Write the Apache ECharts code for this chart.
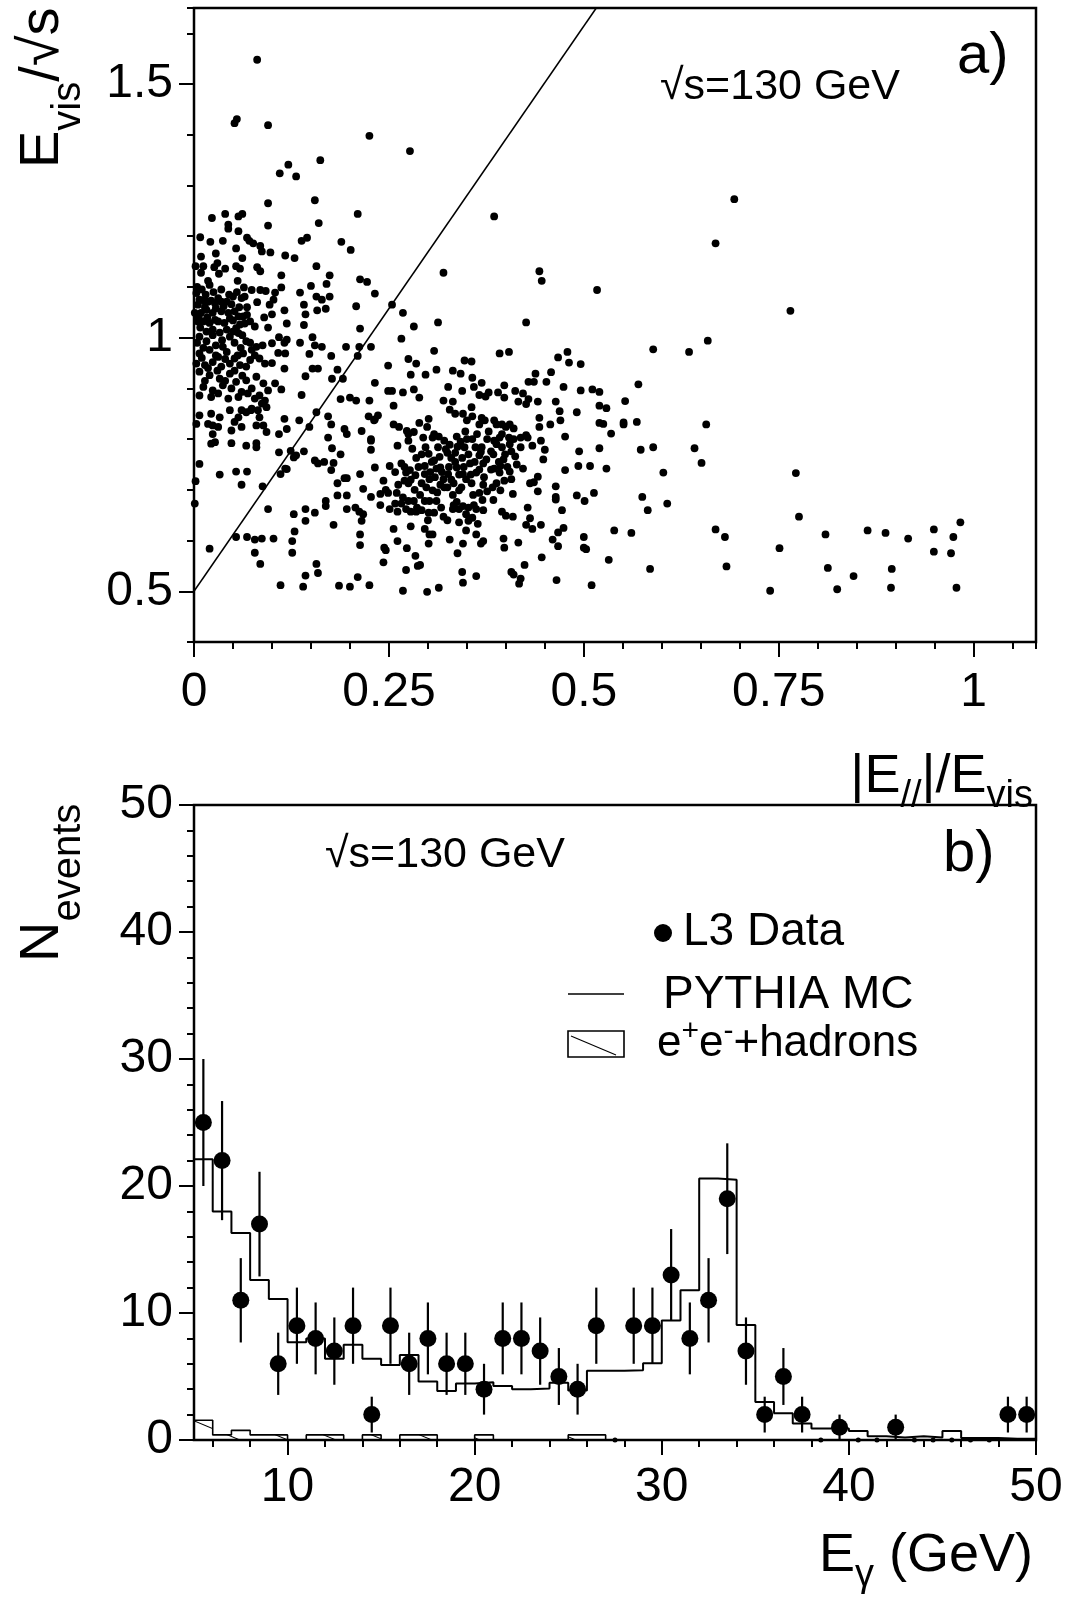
<!DOCTYPE html>
<html><head><meta charset="utf-8">
<script src="https://cdn.jsdelivr.net/npm/echarts@6/dist/echarts.min.js"></script>
<style>html,body{margin:0;padding:0;background:#fff}#c{width:1068px;height:1604px}</style>
</head><body><div id="c"></div>
<script>
// ---------- Panel a) scatter: events (|E//|/Evis , Evis/sqrt(s)) ----------
const evtUpper = [[0.081,1.548],[0.052,1.423],[0.055,1.431],[0.095,1.419],[0.225,1.398],[0.277,1.368],[0.110,1.324],[0.121,1.341],[0.131,1.318],[0.162,1.350],[0.095,1.265],[0.155,1.271],[0.023,1.236],[0.040,1.244],[0.044,1.223],[0.044,1.215],[0.057,1.239],[0.062,1.244],[0.095,1.221],[0.160,1.226],[0.210,1.244],[0.385,1.239],[0.008,1.198],[0.021,1.189],[0.037,1.191],[0.057,1.210],[0.068,1.197],[0.071,1.191],[0.076,1.186],[0.085,1.181],[0.087,1.170],[0.098,1.168],[0.117,1.162],[0.129,1.157],[0.138,1.191],[0.145,1.197],[0.189,1.189],[0.201,1.173],[0.009,1.160],[0.028,1.166],[0.054,1.176],[0.062,1.157],[0.002,1.141],[0.012,1.141],[0.009,1.128],[0.026,1.139],[0.030,1.147],[0.032,1.126],[0.040,1.136],[0.054,1.141],[0.059,1.136],[0.081,1.139],[0.085,1.131],[0.018,1.112],[0.020,1.104],[0.056,1.112],[0.064,1.099],[0.074,1.094],[0.085,1.094],[0.092,1.092],[0.081,1.070],[0.097,1.065],[0.100,1.046],[0.104,1.089],[0.102,1.075],[0.112,1.123],[0.112,1.099],[0.116,1.054],[0.119,1.028],[0.136,1.089],[0.141,1.065],[0.143,1.046],[0.141,1.025],[0.150,1.102],[0.157,1.141],[0.157,1.081],[0.164,1.075],[0.158,1.054],[0.169,1.057],[0.170,1.106],[0.174,1.123],[0.174,1.081],[0.208,1.062],[0.213,1.115],[0.222,1.110],[0.232,1.087],[0.213,1.018],[0.254,1.065],[0.268,1.049],[0.282,1.022],[0.313,1.030],[0.320,1.128],[0.426,1.030],[0.443,1.131],[0.446,1.112],
[0.003,1.088],[0.007,1.075],[0.012,1.074],[0.018,1.071],[0.022,1.073],[0.027,1.068],[0.031,1.078],[0.035,1.071],[0.042,1.071],[0.050,1.081],[0.061,1.078],[0.065,1.081],[0.009,1.049],[0.016,1.055],[0.024,1.049],[0.035,1.052],[0.044,1.049],[0.052,1.052],[0.063,1.042],[0.012,1.032],[0.020,1.029],[0.031,1.032],[0.039,1.029],[0.050,1.034],[0.059,1.026],[0.072,1.032],[0.078,1.022],[0.024,1.016],[0.042,1.016],[0.054,1.019],[0.001,1.049],[0.005,1.032]];
const evtLeft = [[0.007,1.002],[0.016,0.993],[0.024,1.005],[0.037,0.982],[0.046,1.002],[0.057,1.009],[0.067,0.993],[0.074,0.976],[0.080,0.982],[0.007,0.969],[0.020,0.976],[0.031,0.962],[0.042,0.972],[0.052,0.959],[0.063,0.969],[0.072,0.956],[0.084,0.959],[0.091,0.949],[0.003,0.949],[0.014,0.946],[0.024,0.952],[0.035,0.943],[0.046,0.949],[0.059,0.946],[0.067,0.943],
[0.007,0.933],[0.020,0.926],[0.033,0.919],[0.046,0.929],[0.054,0.913],[0.067,0.916],[0.080,0.923],[0.089,0.910],[0.095,0.896],[0.012,0.903],[0.024,0.896],[0.037,0.906],[0.048,0.900],[0.061,0.893],[0.074,0.900],[0.084,0.886],[0.091,0.876],[0.007,0.886],[0.022,0.883],[0.031,0.890],[0.044,0.880],[0.057,0.883],[0.069,0.890],[0.078,0.880],[0.087,0.870],[0.093,0.863],[0.073,0.857],[0.067,0.853],[0.061,0.857],
[0.007,0.847],[0.022,0.850],[0.033,0.843],[0.024,0.827],[0.018,0.830],[0.031,0.824],[0.046,0.857],[0.057,0.843],[0.052,0.834],[0.074,0.860],[0.082,0.857],[0.084,0.843],[0.003,0.830],[0.024,0.810],[0.027,0.794],[0.048,0.817],[0.061,0.824],[0.080,0.827],[0.089,0.827],[0.093,0.814],
[0.022,0.791],[0.048,0.792],[0.067,0.787],[0.080,0.792],[0.080,0.784],[0.007,0.751],[0.033,0.730],[0.054,0.736],[0.068,0.736],[0.061,0.710],[0.088,0.707],[0.001,0.673],[0.002,0.717],[0.095,0.662],[0.054,0.607],[0.068,0.607],[0.078,0.602],[0.087,0.604],[0.102,0.604],[0.020,0.584],[0.078,0.576],[0.085,0.554]];
const evtDenseLeft = [[0.004,1.10],[0.010,1.095],[0.015,1.085],[0.025,1.09],[0.035,1.095],[0.045,1.085],[0.055,1.09],[0.068,1.06],[0.005,1.065],[0.014,1.06],[0.028,1.058],[0.038,1.062],[0.048,1.066],[0.058,1.06],[0.068,1.045],[0.006,1.04],[0.017,1.04],[0.027,1.035],[0.046,1.038],[0.057,1.042],[0.065,1.028],[0.008,1.02],[0.016,1.012],[0.033,1.01],[0.050,1.012],[0.062,1.005],[0.004,0.99],[0.012,0.98],[0.028,0.985],[0.036,0.995],[0.052,0.99],[0.060,0.98],[0.072,0.99],[0.010,0.96],[0.028,0.965],[0.040,0.958],[0.056,0.965],[0.078,0.965],[0.018,0.94],[0.030,0.935],[0.052,0.935],[0.040,0.915],[0.062,0.925],[0.014,0.915],[0.100,0.95],[0.108,0.97],[0.088,0.985],[0.095,1.02],[0.090,1.04]];
const evtCentral = [[0.100,0.989],[0.109,1.001],[0.116,0.990],[0.119,0.996],[0.117,0.969],[0.136,0.990],[0.152,1.001],[0.155,0.985],[0.164,0.982],[0.148,0.968],[0.159,0.939],[0.152,0.939],[0.176,0.964],[0.195,0.982],[0.212,0.982],[0.210,0.964],[0.227,0.982],[0.266,0.998],[0.275,0.958],[0.285,0.949],[0.308,0.974],[0.311,0.937],[0.332,0.935],[0.342,0.929],[0.347,0.955],[0.356,0.953],[0.357,0.921],[0.369,0.911],[0.392,0.969],[0.404,0.972],[0.467,0.961],[0.438,0.929],[0.458,0.932],[0.429,0.913],[0.436,0.913],[0.452,0.913],
[0.104,0.910],[0.112,0.898],[0.116,0.939],[0.143,0.924],[0.138,0.887],[0.177,0.919],[0.184,0.937],[0.191,0.919],[0.188,0.879],[0.200,0.882],[0.208,0.876],[0.225,0.876],[0.232,0.911],[0.249,0.945],[0.249,0.895],[0.254,0.895],[0.268,0.892],[0.256,0.866],[0.278,0.927],[0.282,0.898],[0.289,0.882],[0.297,0.927],[0.326,0.903],[0.344,0.895],[0.359,0.903],[0.366,0.887],[0.374,0.884],[0.378,0.892],[0.390,0.892],[0.398,0.906],[0.398,0.882],[0.412,0.895],[0.416,0.874],[0.422,0.890],[0.426,0.869],[0.429,0.879],[0.441,0.874],[0.464,0.874],[0.320,0.876],[0.332,0.874],
[0.116,0.840],[0.109,0.810],[0.119,0.820],[0.135,0.837],[0.148,0.824],[0.157,0.853],[0.172,0.845],[0.176,0.829],[0.172,0.803],[0.193,0.820],[0.196,0.810],[0.215,0.816],[0.224,0.845],[0.236,0.847],[0.231,0.837],[0.227,0.800],[0.232,0.839],[0.256,0.829],[0.263,0.824],[0.273,0.816],[0.282,0.814],[0.289,0.832],[0.301,0.840],[0.299,0.824],[0.308,0.810],[0.328,0.858],[0.335,0.850],[0.345,0.850],[0.350,0.837],[0.356,0.863],[0.357,0.845],[0.366,0.829],[0.369,0.842],[0.373,0.837],[0.385,0.837],[0.388,0.829],[0.395,0.829],[0.400,0.824],[0.405,0.829],[0.410,0.821],[0.419,0.803],[0.428,0.803],[0.443,0.842],[0.443,0.824],[0.457,0.829],[0.469,0.855],[0.470,0.837],
[0.109,0.774],[0.119,0.741],[0.124,0.777],[0.128,0.764],[0.131,0.768],[0.141,0.776],[0.155,0.758],[0.159,0.752],[0.167,0.755],[0.177,0.782],[0.179,0.753],[0.188,0.770],[0.176,0.739],[0.227,0.779],[0.227,0.797],[0.232,0.744],[0.251,0.747],[0.261,0.787],[0.266,0.752],[0.275,0.810],[0.275,0.797],[0.280,0.781],[0.285,0.763],[0.294,0.803],[0.297,0.784],[0.296,0.747],[0.301,0.771],[0.306,0.803],[0.308,0.758],[0.313,0.784],[0.314,0.805],[0.316,0.744],[0.321,0.797],[0.325,0.773],[0.328,0.789],[0.330,0.763],[0.335,0.773],[0.337,0.805],[0.342,0.795],[0.344,0.763],[0.347,0.784],[0.350,0.800],[0.354,0.752],[0.357,0.800],[0.361,0.784],[0.366,0.768],[0.369,0.784],[0.371,0.752],[0.376,0.800],[0.381,0.776],[0.385,0.797],[0.392,0.803],[0.395,0.784],[0.397,0.760],[0.404,0.803],[0.407,0.776],[0.412,0.766],[0.419,0.784],[0.426,0.808],[0.434,0.787],[0.445,0.797],[0.448,0.760],[0.450,0.779],[0.422,0.742],[0.405,0.736],[0.393,0.747],[0.385,0.742],
[0.111,0.731],[0.117,0.742],[0.184,0.713],[0.193,0.723],[0.196,0.723],[0.213,0.731],[0.217,0.702],[0.227,0.686],[0.239,0.692],[0.243,0.718],[0.249,0.694],[0.260,0.694],[0.270,0.718],[0.272,0.734],[0.277,0.739],[0.284,0.729],[0.275,0.713],[0.292,0.713],[0.296,0.731],[0.302,0.721],[0.306,0.699],[0.311,0.742],[0.316,0.710],[0.320,0.721],[0.326,0.731],[0.325,0.705],[0.333,0.713],[0.337,0.744],[0.340,0.699],[0.345,0.731],[0.349,0.721],[0.356,0.713],[0.362,0.734],[0.366,0.694],[0.371,0.710],[0.376,0.697],[0.383,0.705],[0.388,0.713],[0.392,0.734],[0.393,0.699],[0.398,0.718],[0.407,0.721],[0.409,0.692],[0.431,0.713],[0.436,0.715],[0.441,0.726],[0.441,0.697],[0.464,0.707],[0.464,0.686],[0.464,0.681],
[0.128,0.652],[0.143,0.662],[0.143,0.639],[0.155,0.655],[0.169,0.678],[0.169,0.668],[0.179,0.631],[0.184,0.689],[0.196,0.689],[0.196,0.662],[0.207,0.665],[0.212,0.657],[0.217,0.652],[0.215,0.639],[0.239,0.670],[0.251,0.662],[0.258,0.673],[0.261,0.657],[0.266,0.673],[0.272,0.662],[0.278,0.657],[0.285,0.657],[0.292,0.660],[0.301,0.655],[0.308,0.655],[0.275,0.678],[0.282,0.678],[0.296,0.678],[0.302,0.678],[0.311,0.678],[0.320,0.647],[0.332,0.662],[0.337,0.676],[0.340,0.662],[0.345,0.668],[0.349,0.652],[0.352,0.639],[0.359,0.670],[0.362,0.662],[0.371,0.660],[0.395,0.657],[0.400,0.649],[0.409,0.647],[0.428,0.665],[0.431,0.644],[0.434,0.623],[0.445,0.631],[0.467,0.616],[0.426,0.631],[0.364,0.633],[0.340,0.636],[0.349,0.620],[0.362,0.612],[0.302,0.612],[0.296,0.623],[0.278,0.628],[0.256,0.623],[0.126,0.599],[0.129,0.618],[0.213,0.612],
[0.126,0.576],[0.213,0.591],[0.244,0.586],[0.246,0.581],[0.243,0.557],[0.261,0.599],[0.273,0.585],[0.272,0.542],[0.284,0.570],[0.287,0.550],[0.290,0.552],[0.301,0.594],[0.306,0.612],[0.328,0.602],[0.338,0.575],[0.345,0.594],[0.368,0.594],[0.371,0.599],[0.397,0.604],[0.398,0.586],[0.416,0.596],[0.460,0.602],[0.467,0.589],[0.446,0.567],[0.424,0.552],[0.407,0.538],[0.410,0.533],[0.419,0.525],[0.417,0.515],[0.157,0.554],[0.159,0.536],[0.143,0.531],[0.140,0.509],[0.111,0.512],[0.344,0.538],[0.345,0.517],[0.362,0.530],[0.465,0.522],[0.210,0.528],[0.200,0.509],[0.186,0.511],[0.225,0.512],[0.268,0.501],[0.299,0.499],[0.314,0.507]];
const evtDenseCore = [[0.270,0.745],[0.278,0.72],[0.283,0.70],[0.290,0.69],[0.288,0.745],[0.292,0.77],[0.298,0.705],[0.303,0.735],[0.305,0.755],[0.309,0.725],[0.312,0.695],[0.315,0.765],[0.318,0.735],[0.321,0.705],[0.323,0.78],[0.327,0.745],[0.330,0.72],[0.332,0.69],[0.335,0.755],[0.338,0.785],[0.340,0.73],[0.343,0.705],[0.346,0.745],[0.348,0.815],[0.352,0.77],[0.355,0.73],[0.358,0.69],[0.360,0.755],[0.363,0.81],[0.366,0.74],[0.368,0.775],[0.372,0.725],[0.375,0.76],[0.378,0.815],[0.381,0.74],[0.384,0.77],[0.388,0.79],[0.391,0.755],[0.395,0.81],[0.399,0.77],[0.402,0.745],[0.405,0.79],[0.410,0.80],[0.414,0.75],[0.286,0.665],[0.300,0.64],[0.317,0.665],[0.325,0.64],[0.333,0.67],[0.352,0.665],[0.357,0.645],[0.370,0.68],[0.384,0.68],[0.262,0.71],[0.268,0.685],[0.258,0.735],[0.246,0.70]];
const evtRight = [[0.693,1.273],[0.669,1.186],[0.517,1.094],[0.765,1.053],[0.659,0.994],[0.635,0.972],[0.589,0.977],[0.570,0.908],[0.553,0.875],[0.657,0.829],[0.642,0.782],[0.651,0.753],[0.772,0.733],[0.776,0.647],[0.602,0.734],[0.607,0.673],[0.575,0.686],[0.582,0.660],[0.573,0.779],[0.589,0.784],[0.568,0.834],[0.551,0.829],[0.551,0.833],[0.535,0.811],[0.529,0.861],[0.520,0.866],[0.520,0.832],[0.525,0.830],[0.511,0.898],[0.520,0.893],[0.496,0.896],[0.496,0.948],[0.481,0.951],[0.479,0.972],[0.474,0.903],[0.491,0.853],[0.476,0.805],[0.494,0.776],[0.520,0.782],[0.493,0.747],[0.508,0.747],[0.529,0.742],[0.476,0.739],[0.491,0.689],[0.501,0.678],[0.513,0.694],[0.472,0.660],[0.474,0.625],[0.500,0.607],[0.500,0.586],[0.503,0.583],[0.539,0.620],[0.561,0.615],[0.532,0.562],[0.585,0.544],[0.510,0.512],[0.669,0.622],[0.681,0.607],[0.683,0.549],[0.739,0.501],[0.751,0.585],[0.810,0.612],[0.813,0.546],[0.825,0.504],[0.846,0.530],[0.864,0.620],[0.887,0.615],[0.895,0.544],[0.894,0.507],[0.916,0.604],[0.949,0.622],[0.949,0.578],[0.971,0.575],[0.974,0.607],[0.983,0.636],[0.978,0.507]];
// cut line
const cutLineX = [0, 0.516];
const cutLineY = [0.5, 1.65];

// ---------- Panel b) E_gamma spectrum ----------
const binCenters = [5.5,6.5,7.5,8.5,9.5,10.5,11.5,12.5,13.5,14.5,15.5,16.5,17.5,18.5,19.5,20.5,21.5,22.5,23.5,24.5,25.5,26.5,27.5,28.5,29.5,30.5,31.5,32.5,33.5,34.5,35.5,36.5,37.5,38.5,39.5,40.5,41.5,42.5,43.5,44.5,45.5,46.5,47.5,48.5,49.5];
const l3Data = [25,22,11,17,6,9,8,7,9,2,9,6,8,6,6,4,8,8,7,5,4,9,0,9,9,13,8,11,19,7,2,5,2,0,1,0,0,1,0,0,0,0,0,2,2];
const l3Err  = [5.0,4.69,3.32,4.12,2.45,3.0,2.83,2.65,3.0,1.41,3.0,2.45,2.83,2.45,2.45,2.0,2.83,2.83,2.65,2.24,2.0,3.0,0,3.0,3.0,3.61,2.83,3.32,4.36,2.65,1.41,2.24,1.41,0,1.0,0,0,1.0,0,0,0,0,0,1.41,1.41];
const binEdges = [5,6,7,8,9,10,11,12,13,14,15,16,17,18,19,20,21,22,23,24,25,26,27,28,29,30,31,32,33,34,35,36,37,38,39,40,41,42,43,44,45,46,47,48,49,50];
const pythiaMC = [22.1,18.0,16.3,12.6,11.1,7.7,8.0,6.4,7.5,6.4,5.9,6.7,4.6,3.85,4.45,4.55,4.25,4.0,4.05,4.5,3.9,5.45,5.45,5.5,6.05,9.4,11.8,20.6,20.5,9.05,3.0,2.1,1.3,0.9,0.9,0.7,0.3,0.2,0.3,0.2,0.7,0.15,0.15,0.1,0.1];
const eeHadrons = [1.55,0.4,0.76,0.4,0.4,0,0.4,0.4,0,0.4,0,0.4,0.4,0,0,0.4,0,0,0,0,0.4,0.4,0,0,0,0,0,0,0,0,0,0,0,0,0,0,0,0,0,0,0,0,0,0,0];

// ---------- ticks / labels ----------
const aXLabels = [0,0.25,0.5,0.75,1];
const aYLabels = [0.5,1,1.5];
const bXLabels = [10,20,30,40,50];
const bXMinor = [6,8,12,14,16,18,22,24,26,28,32,34,36,38,42,44,46,48];

const FONT = '"Liberation Sans", Arial, Helvetica, sans-serif';
const mctx = document.createElement('canvas').getContext('2d');
function tw(t, s){ mctx.font = s + 'px ' + FONT; return mctx.measureText(t).width; }
function compText(parts, x, y, align, rot){
  const w = parts.map(p => tw(p.t, p.s));
  const total = w.reduce((a,b)=>a+b, 0);
  let cx = align === 'right' ? -total : 0;
  const children = parts.map((p,i) => {
    const el = {type:'text', x: cx, y: (p.dy||0) - 0.3465*p.s,
      style:{text:p.t, font: p.s + 'px ' + FONT, fill:'#000', align:'left', verticalAlign:'middle', textAlign:'left', textVerticalAlign:'middle'}};
    cx += w[i];
    return el;
  });
  return {type:'group', x:x, y:y, rotation: rot||0, children: children};
}

// hatch pattern
const pc = document.createElement('canvas'); pc.width = 48; pc.height = 20;
const pg = pc.getContext('2d'); pg.strokeStyle = '#000'; pg.lineWidth = 1.1;
pg.beginPath(); pg.moveTo(0,0); pg.lineTo(48,20); pg.stroke();

const chart = echarts.init(document.getElementById('c'), null, {renderer:'canvas'});
const lab = {fontFamily: FONT, fontSize: 48, color:'#000'};
const majTick = {show:true, length:15, lineStyle:{color:'#000', width:2}};
const minTick = {show:true, length:7, lineStyle:{color:'#000', width:2}};

const mcLine = binEdges.slice(0,-1).map((e,i)=>[e, pythiaMC[i]]).concat([[binEdges[binEdges.length-1], pythiaMC[pythiaMC.length-1]]]);
const eeLine = binEdges.slice(0,-1).map((e,i)=>[e, eeHadrons[i]]).concat([[binEdges[binEdges.length-1], eeHadrons[eeHadrons.length-1]]]);
const dataPts = binCenters.map((x,i)=>[x, l3Data[i]]).filter(p=>p[1] > 0);
const zeroPts = binCenters.map((x,i)=>[x, l3Data[i]]).filter(p=>p[1] === 0);
const errBars = binCenters.map((x,i)=>[x, l3Data[i]-l3Err[i], l3Data[i]+l3Err[i]]).filter((p,i)=>l3Err[i] > 0);

const option = {
  animation:false,
  backgroundColor:'#fff',
  grid:[
    {left:194, top:8, width:842, height:634, show:true, borderColor:'#000', borderWidth:2.5, backgroundColor:'transparent'},
    {left:194, top:805, width:842, height:635, show:true, borderColor:'#000', borderWidth:2.5, backgroundColor:'transparent'}
  ],
  xAxis:[
    {type:'value', gridIndex:0, min:0, max:1.08, position:'bottom', axisLine:{show:false}, splitLine:{show:false},
      axisTick:Object.assign({customValues:aXLabels}, majTick), axisLabel:Object.assign({customValues:aXLabels, margin:27}, lab)},
    {type:'value', gridIndex:0, min:0, max:1.08, interval:0.05, position:'bottom', axisLine:{show:false}, splitLine:{show:false},
      axisTick:minTick, axisLabel:{show:false}},
    {type:'value', gridIndex:1, min:5, max:50, position:'bottom', axisLine:{show:false}, splitLine:{show:false},
      axisTick:Object.assign({customValues:bXLabels}, majTick), axisLabel:Object.assign({customValues:bXLabels, margin:24}, lab)},
    {type:'value', gridIndex:1, min:5, max:50, position:'bottom', axisLine:{show:false}, splitLine:{show:false},
      axisTick:Object.assign({customValues:bXMinor}, minTick), axisLabel:{show:false}}
  ],
  yAxis:[
    {type:'value', gridIndex:0, min:0.4, max:1.65, position:'left', axisLine:{show:false}, splitLine:{show:false},
      axisTick:Object.assign({customValues:aYLabels}, majTick), axisLabel:Object.assign({customValues:aYLabels, margin:21}, lab)},
    {type:'value', gridIndex:0, min:0.4, max:1.65, interval:0.1, position:'left', axisLine:{show:false}, splitLine:{show:false},
      axisTick:minTick, axisLabel:{show:false}},
    {type:'value', gridIndex:1, min:0, max:50, interval:10, position:'left', axisLine:{show:false}, splitLine:{show:false},
      axisTick:majTick, axisLabel:Object.assign({margin:21}, lab)},
    {type:'value', gridIndex:1, min:0, max:50, interval:2, position:'left', axisLine:{show:false}, splitLine:{show:false},
      axisTick:minTick, axisLabel:{show:false}}
  ],
  series:[
    {type:'line', xAxisIndex:0, yAxisIndex:0, data: cutLineX.map((x,i)=>[x, cutLineY[i]]), showSymbol:false, symbol:'none',
      lineStyle:{color:'#000', width:1.5}, silent:true, z:2},
    {type:'scatter', xAxisIndex:0, yAxisIndex:0, data: evtUpper.concat(evtLeft, evtDenseLeft, evtCentral, evtDenseCore, evtRight), symbol:'circle', symbolSize:7.8,
      itemStyle:{color:'#000', opacity:1}, z:3},
    {type:'line', xAxisIndex:2, yAxisIndex:2, data: mcLine, step:'end', showSymbol:false, symbol:'none',
      lineStyle:{color:'#000', width:2}, z:2},
    {type:'line', xAxisIndex:2, yAxisIndex:2, data: eeLine, step:'end', showSymbol:false, symbol:'none',
      lineStyle:{color:'#000', width:1.6}, areaStyle:{color:{image:pc, repeat:'repeat'}, opacity:1}, z:2},
    {type:'custom', xAxisIndex:2, yAxisIndex:2, data: errBars, encode:{x:0, y:[1,2]}, z:3,
      renderItem:function(params, api){
        const x = api.value(0), lo = api.value(1), hi = api.value(2);
        const p1 = api.coord([x, lo]), p2 = api.coord([x, hi]);
        return {type:'line', shape:{x1:p1[0], y1:p1[1], x2:p2[0], y2:p2[1]}, style:{stroke:'#000', lineWidth:2.2}};
      }},
    {type:'scatter', xAxisIndex:2, yAxisIndex:2, data: dataPts, symbol:'circle', symbolSize:17, itemStyle:{color:'#000', opacity:1}, z:4},
    {type:'scatter', xAxisIndex:2, yAxisIndex:2, data: zeroPts, symbol:'circle', symbolSize:5, itemStyle:{color:'#000', opacity:1}, z:4}
  ],
  graphic:[
    compText([{t:'E',s:56},{t:'vis',s:40,dy:21},{t:'/\u221As',s:56}], 62, 168, 'left', Math.PI/2),
    compText([{t:'N',s:56},{t:'events',s:40,dy:21}], 62, 962, 'left', Math.PI/2),
    compText([{t:'|E',s:54},{t:'//',s:38,dy:14},{t:'|/E',s:54},{t:'vis',s:38,dy:14}], 1033, 796, 'right'),
    compText([{t:'E',s:54},{t:'\u03B3',s:38,dy:14},{t:' (GeV)',s:54}], 1033, 1575, 'right'),
    compText([{t:'\u221As=130 GeV',s:43}], 660, 102),
    compText([{t:'a)',s:58}], 957, 77),
    compText([{t:'\u221As=130 GeV',s:43}], 325, 870),
    compText([{t:'b)',s:58}], 943, 875),
    {type:'circle', shape:{cx:663, cy:933, r:9}, style:{fill:'#000'}},
    compText([{t:'L3 Data',s:46}], 683, 948),
    {type:'line', shape:{x1:568, y1:994, x2:624, y2:994}, style:{stroke:'#000', lineWidth:1.6}},
    compText([{t:'PYTHIA MC',s:46}], 663, 1011),
    {type:'rect', shape:{x:568, y:1031, width:56, height:26}, style:{fill:'none', stroke:'#000', lineWidth:1.6}},
    {type:'line', shape:{x1:571, y1:1036, x2:616, y2:1055}, style:{stroke:'#000', lineWidth:1.1}},
    compText([{t:'e',s:44},{t:'+',s:30,dy:-17},{t:'e',s:44},{t:'-',s:30,dy:-17},{t:'+hadrons',s:44}], 657, 1059)
  ]
};
chart.setOption(option);
</script></body></html>
